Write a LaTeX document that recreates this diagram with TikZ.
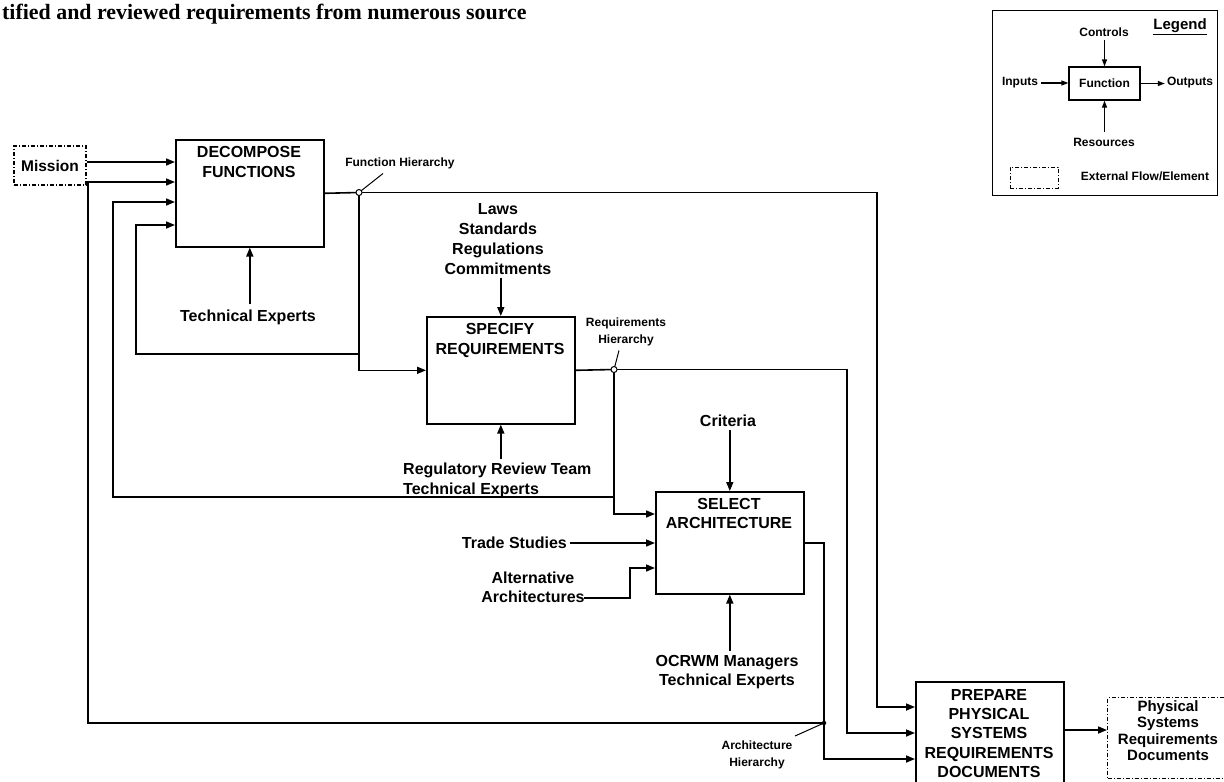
\documentclass[tikz,border=0pt]{standalone}
\usepackage{fontspec}
\setmainfont{Liberation Sans}
\newfontfamily\headserif{Liberation Serif}
\usetikzlibrary{arrows.meta,calc}

\begin{document}
\begin{tikzpicture}[x=1pt,y=-1pt,
  fnbox/.style={draw,line width=1.6pt,inner sep=0pt,anchor=north west},
  extbox/.style={draw,line width=1.1pt,dash pattern=on 4pt off 2pt on 1pt off 2pt,inner sep=0pt},
  fntitle/.style={font=\bfseries\fontsize{16}{20}\selectfont,align=center,inner sep=0pt,anchor=north},
  lbl/.style={font=\bfseries\fontsize{16}{20}\selectfont,align=center,inner sep=0pt},
  smalltag/.style={font=\bfseries\fontsize{12}{17}\selectfont,align=center,inner sep=0pt},
  legtext/.style={font=\bfseries\fontsize{12}{14}\selectfont,inner sep=0pt},
  flow/.style={line width=1.6pt,-{Triangle[length=9pt,width=7pt]}},
  lflow/.style={line width=1.3pt,-{Triangle[length=7pt,width=5pt]}},
  plain/.style={line width=1.6pt},
  leader/.style={line width=1pt},
  jdot/.style={circle,draw,line width=1pt,fill=white,inner sep=0pt,minimum size=6pt}]

\useasboundingbox (0,0) rectangle (1224,782);
\clip (0,0) rectangle (1224,782);

% running text of the page above the chart
\node[font=\headserif\bfseries\fontsize{21.9}{26}\selectfont,anchor=base west,inner sep=0pt] (hdr) at (2,19)
  {tified and reviewed requirements from numerous source};

% function boxes
\node[fnbox,minimum width=148pt,minimum height=107pt] (dec)  at (175,139) {};
\node[fnbox,minimum width=148pt,minimum height=107pt] (spec) at (426,316) {};
\node[fnbox,minimum width=148pt,minimum height=102pt] (sel)  at (655,491) {};
\node[fnbox,minimum width=148pt,minimum height=110pt] (prep) at (915,681) {};

\node[fntitle] (dect)  at (249,146) {DECOMPOSE\\FUNCTIONS};
\node[fntitle] (spect) at (500,323) {SPECIFY\\REQUIREMENTS};
\node[fntitle,font=\bfseries\fontsize{16}{19}\selectfont] (selt) at (729,498) {SELECT\\ARCHITECTURE};
\node[fntitle,font=\bfseries\fontsize{16}{19.3}\selectfont] (prept) at (989,689)
  {PREPARE\\PHYSICAL\\SYSTEMS\\REQUIREMENTS\\DOCUMENTS};

% external elements
\node[extbox,minimum width=72pt,minimum height=39pt,font=\bfseries\fontsize{15.5}{18}\selectfont] (mission) at (50,165.5) {Mission};
\node[extbox,minimum width=130pt,minimum height=81pt,anchor=north west] (psrd) at (1107,697) {};
\node[lbl,font=\bfseries\fontsize{15}{16.5}\selectfont,anchor=north] (psrdt) at (1168,700)
  {Physical\\Systems\\Requirements\\Documents};

% controls, resources and other inputs
\node[lbl] (te1) at (248,317) {Technical Experts};
\node[lbl,anchor=north] (laws) at (498,203) {Laws\\Standards\\Regulations\\Commitments};
\node[lbl,align=left,anchor=north west] (regrev) at (403,463) {Regulatory Review Team\\Technical Experts};
\node[lbl] (criteria) at (728,421) {Criteria};
\node[lbl,anchor=east] (trade) at (567,543) {Trade Studies};
\node[lbl,anchor=north,font=\bfseries\fontsize{16}{19}\selectfont] (alt) at (533,572) {Alternative\\Architectures};
\node[lbl,anchor=north,font=\bfseries\fontsize{16}{19.5}\selectfont] (ocrwm) at (727,655) {OCRWM Managers\\Technical Experts};

% output names
\node[smalltag] (fhl) at (400,163) {Function Hierarchy};
\node[smalltag,anchor=north] (rhl) at (626,318) {Requirements\\Hierarchy};
\node[smalltag,anchor=north] (ahl) at (757,741) {Architecture\\Hierarchy};

% connection points
\coordinate (d1) at (175,162);
\coordinate (d2) at (175,182);
\coordinate (d3) at (175,202);
\coordinate (d4) at (175,225);
\coordinate (fh) at (359,192.5);
\coordinate (fhfb) at (359,354);
\coordinate (rh) at (614,369.5);
\coordinate (rhfb) at (614,497);
\coordinate (ah) at (824,723);
\coordinate (s1) at (655,514);
\coordinate (s3) at (655,568);
\coordinate (p1) at (915,707);
\coordinate (p2) at (915,733);
\coordinate (p3) at (915,759);
\coordinate (pout) at (1063,730);

% flows
\draw[flow] (mission.east |- d1) -- (d1);
\draw[plain] (dec.east) -- (fh);
\draw[flow] (fh) -| ($(p1)+(-38,0)$) -- (p1);
\draw[flow] (fh) |- (spec.west);
\draw[flow] (fhfb) -| ($(d4)+(-39,0)$) -- (d4);
\draw[plain] (spec.east) -- (rh);
\draw[flow] (rh) -| ($(p2)+(-68,0)$) -- (p2);
\draw[flow] (rh) |- (s1);
\draw[flow] (rhfb) -| ($(d3)+(-62,0)$) -- (d3);
\draw[flow] (sel.east) -| ($(p3)+(-91,0)$) -- (p3);
\draw[flow] (ah) -| ($(d2)+(-87,0)$) -- (d2);
\draw[flow,shorten <=3pt] (trade.east) -- (sel.west |- trade.east);
\draw[flow] ([xshift=-1pt,yshift=5pt]alt.south east) -| ($(s3)+(-25,0)$) -- (s3);
\draw[flow] (pout) -- (psrd.west |- pout);

\draw[flow,shorten <=5pt] (dec.south |- te1.north) -- (dec.south);
\draw[flow,shorten <=3pt] (laws.south -| spec.north) -- (spec.north);
\draw[flow,shorten <=4pt] (spec.south |- regrev.north) -- (spec.south);
\draw[flow,shorten <=3pt] (criteria.south -| sel.north) -- (sel.north);
\draw[flow,shorten <=4pt] (sel.south |- ocrwm.north) -- (sel.south);

% leaders to the output names
\draw[leader] (fh) -- ($(fh)+(24,-19)$);
\draw[leader] (rh) -- ($(rh)+(5,-19)$);
\draw[leader] (ah) -- ($(ah)+(-29,13)$);

\node[jdot] (fhdot) at (fh) {};
\node[jdot] (rhdot) at (rh) {};
\node[circle,fill=black,inner sep=0pt,minimum size=4.5pt] (ahdot) at (ah) {};

% legend
\node[draw,line width=1.4pt,minimum width=225pt,minimum height=185pt,anchor=north west,inner sep=0pt] (legend) at (992,10) {};
\node[font=\bfseries\fontsize{15}{17}\selectfont,inner sep=0pt] (legtitle) at (1180,27) {\underline{Legend}};
\node[draw,line width=1.3pt,minimum width=71pt,minimum height=33pt,legtext] (lfun) at (1104.5,83.5) {Function};
\node[legtext] (lctl) at (1104,32) {Controls};
\node[legtext] (linp) at (1020,83) {Inputs};
\node[legtext] (lout) at (1190,83) {Outputs};
\node[legtext] (lres) at (1104,142) {Resources};
\node[extbox,line width=0.9pt,minimum width=48pt,minimum height=21pt] (lext) at (1034,177.5) {};
\node[legtext] (lextt) at (1145,176) {External Flow/Element};
\draw[lflow,shorten <=3pt] (lctl.south -| lfun.north) -- (lfun.north);
\draw[lflow,shorten <=3pt] (linp.east) -- (lfun.west |- linp.east);
\draw[lflow,shorten >=2pt] (lfun.east) -- (lout.west |- lfun.east);
\draw[lflow,shorten <=6pt] (lres.north -| lfun.south) -- (lfun.south);
\end{tikzpicture}
\end{document}
